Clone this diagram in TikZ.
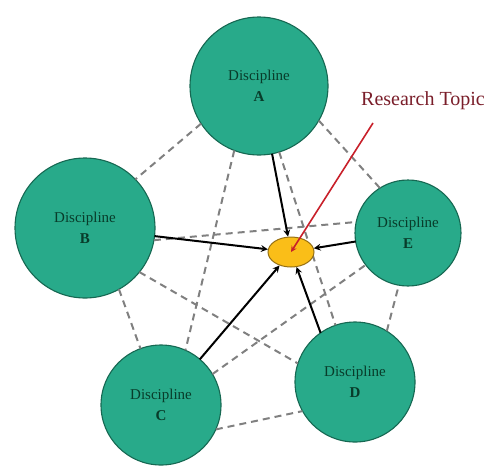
\documentclass[tikz,border=0pt]{standalone}
\usepackage{fontspec}
\setmainfont{Liberation Serif}
\usepackage{tikz}
\usetikzlibrary{arrows,shapes,calc,positioning}
\definecolor{verdeDisc}{RGB}{40,170,138}
\definecolor{verdeBorde}{RGB}{22,104,82}
\definecolor{verdeTexto}{RGB}{8,60,42}
\definecolor{amarillo}{RGB}{250,190,24}
\definecolor{ocre}{RGB}{150,112,20}
\definecolor{grisLinea}{RGB}{128,128,128}
\definecolor{rojo}{RGB}{200,32,42}
\definecolor{vino}{RGB}{122,30,42}
\tikzstyle{disc}  =[circle, draw=verdeBorde, fill=verdeDisc, line width=1.1pt,
                    inner sep=0pt, outer sep=0pt, align=center,
                    text=verdeTexto, font=\fontsize{15}{21}\selectfont]
\tikzstyle{link}  =[dashed, dash pattern=on 7pt off 5pt, grisLinea,
                    line width=2pt]
\tikzstyle{edge}  =[->, >=stealth, line width=2pt, black]
\tikzstyle{topic} =[ellipse, draw=ocre, fill=amarillo, line width=1pt,
                    minimum width=46pt, minimum height=30pt, inner sep=0pt]

\begin{document}
\begin{tikzpicture}[x=1pt,y=-1pt]
    \useasboundingbox (0,0) rectangle (494,469);

    \node (A) [disc, minimum size=138pt] at (259,86) {Discipline\\ \textbf{A}};
    \node (B) [disc, minimum size=140pt] at (85,228) {Discipline\\ \textbf{B}};
    \node (C) [disc, minimum size=120pt] at (161,405) {Discipline\\ \textbf{C}};
    \node (D) [disc, minimum size=120pt] at (355,382) {Discipline\\ \textbf{D}};
    \node (E) [disc, minimum size=106pt] at (408,233) {Discipline\\ \textbf{E}};

    \foreach \i/\a/\j/\b in {A/213.5/B/44.5, A/249/C/66, A/330.5/E/122,
        A/287/D/109, B/350/E/168, B/321/D/162, B/299.5/C/110,
        C/31.4/E/217, C/336/D/209, D/58.6/E/260}
        \draw [link] (\i.\a) -- (\j.\b);

    \node (t) [topic] at (291,252) {};

    \foreach \i in {A,B,C,E}
        \draw [edge] (\i) -- (t);
    \draw [edge] (D.125) -- (t);

    \node (rt) [text=vino, font=\fontsize{20}{24}\selectfont] at (423,101) {Research Topic};
    \coordinate (rs) at (373,123);
    \draw [->, >=stealth, rojo, line width=1.6pt] (rs) -- (t.center);
\end{tikzpicture}
\end{document}
